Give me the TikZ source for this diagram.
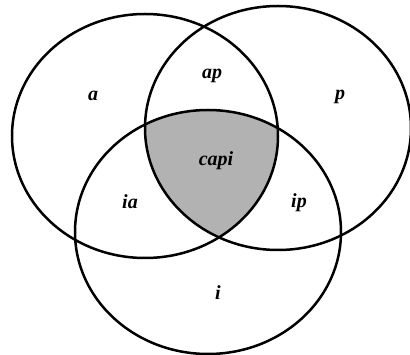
\documentclass[tikz,border=0pt]{standalone}
\usepackage{fontspec}
\setmainfont{Liberation Serif}
\begin{document}
\begin{tikzpicture}[x=1pt,y=-1pt,
  ring/.style={line width=2.5pt,draw=black},
  lab/.style={font=\fontsize{20}{24}\selectfont\bfseries\itshape}]
\useasboundingbox (0,0) rectangle (410,355);
\def\ra{133}\def\rb{122}
\begin{scope}
  \clip (145,136) ellipse [x radius=\ra, y radius=\rb];
  \clip (278,128) ellipse [x radius=\ra, y radius=\rb];
  \fill[gray!60] (208,232) ellipse [x radius=\ra, y radius=\rb];
\end{scope}
\draw[ring] (145,136) ellipse [x radius=\ra, y radius=\rb];
\draw[ring] (278,128) ellipse [x radius=\ra, y radius=\rb];
\draw[ring] (208,232) ellipse [x radius=\ra, y radius=\rb];
\node[lab] (a) at (93,96) {a};
\node[lab] (ap) at (212,76) {ap};
\node[lab] (p) at (340,97) {p};
\node[lab] (capi) at (216,161) {capi};
\node[lab] (ia) at (130,202) {ia};
\node[lab] (ip) at (299,203) {ip};
\node[lab] (i) at (218,293) {i};
\end{tikzpicture}
\end{document}
